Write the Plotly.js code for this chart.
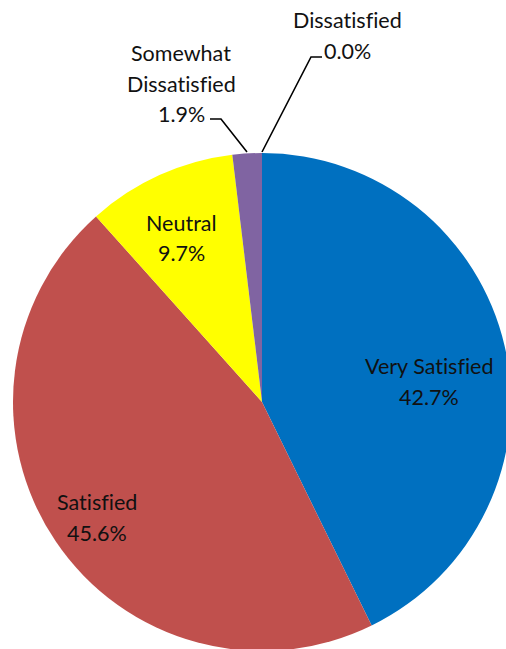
<!DOCTYPE html>
<html>
<head>
<meta charset="utf-8">
<script src="https://cdn.plot.ly/plotly-3.0.1.min.js"></script>
<style>
html,body{margin:0;padding:0;overflow:hidden;background:#fff;width:506px;height:649px;}
#chart{width:520px;height:665px;}
svg text{font-variant-ligatures:none;font-feature-settings:"liga" 0;}
</style>
</head>
<body>
<div id="chart"></div>
<script>
const categories = ["Very Satisfied", "Satisfied", "Neutral", "Somewhat Dissatisfied", "Dissatisfied"];
const values = [42.7, 45.6, 9.7, 1.9, 0.0];
const colors = ["#0070C0", "#C0504D", "#FFFF00", "#8064A2", "#4BACC6"];
const pctText = values.map(v => v.toFixed(1) + "%");

// layout geometry
const W = 520, H = 665, L = 13, T = 153, P = 498;
const R = W - L - P, B = H - T - P;
const px = x => (x - L) / P;
const py = y => (T + P - y) / P;

const font = {family: "Lato, 'Open Sans', sans-serif", size: 21.5, color: "#111"};

// label line positions (pixel centres) per category
const labelLines = [
  {lines: ["Very Satisfied", pctText[0]], x: 429, y: 366},
  {lines: ["Satisfied", pctText[1]], x: 97, y: 502},
  {lines: ["Neutral", pctText[2]], x: 181, y: 223},
  {lines: ["Somewhat", "Dissatisfied", pctText[3]], x: 181, y: 53},
  {lines: ["Dissatisfied", pctText[4]], x: 347, y: 20}
];
const lineGap = 30.5;
const annotations = [];
labelLines.forEach(l => {
  l.lines.forEach((t, i) => {
    annotations.push({
      xref: "paper", yref: "paper",
      x: px(l.x), y: py(l.y + i * lineGap),
      text: t, showarrow: false,
      xanchor: "center", yanchor: "middle",
      font: font
    });
  });
});

const shapes = [
  {type: "path", xref: "paper", yref: "paper",
   path: `M ${px(210)} ${py(119)} L ${px(221)} ${py(119)} L ${px(247)} ${py(152)}`,
   line: {color: "#000", width: 1.6}},
  {type: "path", xref: "paper", yref: "paper",
   path: `M ${px(322)} ${py(57)} L ${px(311)} ${py(57)} L ${px(262)} ${py(152)}`,
   line: {color: "#000", width: 1.6}}
];

Plotly.newPlot("chart", [{
  type: "pie",
  labels: categories,
  values: values,
  sort: false,
  direction: "clockwise",
  rotation: 0,
  marker: {colors: colors, line: {color: "#ffffff", width: 0}},
  textinfo: "none",
  hoverinfo: "none",
  showlegend: false,
  domain: {x: [0, 1], y: [0, 1]}
}], {
  width: W, height: H,
  margin: {l: L, r: R, t: T, b: B, pad: 0},
  paper_bgcolor: "#fff",
  showlegend: false,
  annotations: annotations,
  shapes: shapes
}, {displayModeBar: false, staticPlot: true});
</script>
</body>
</html>
